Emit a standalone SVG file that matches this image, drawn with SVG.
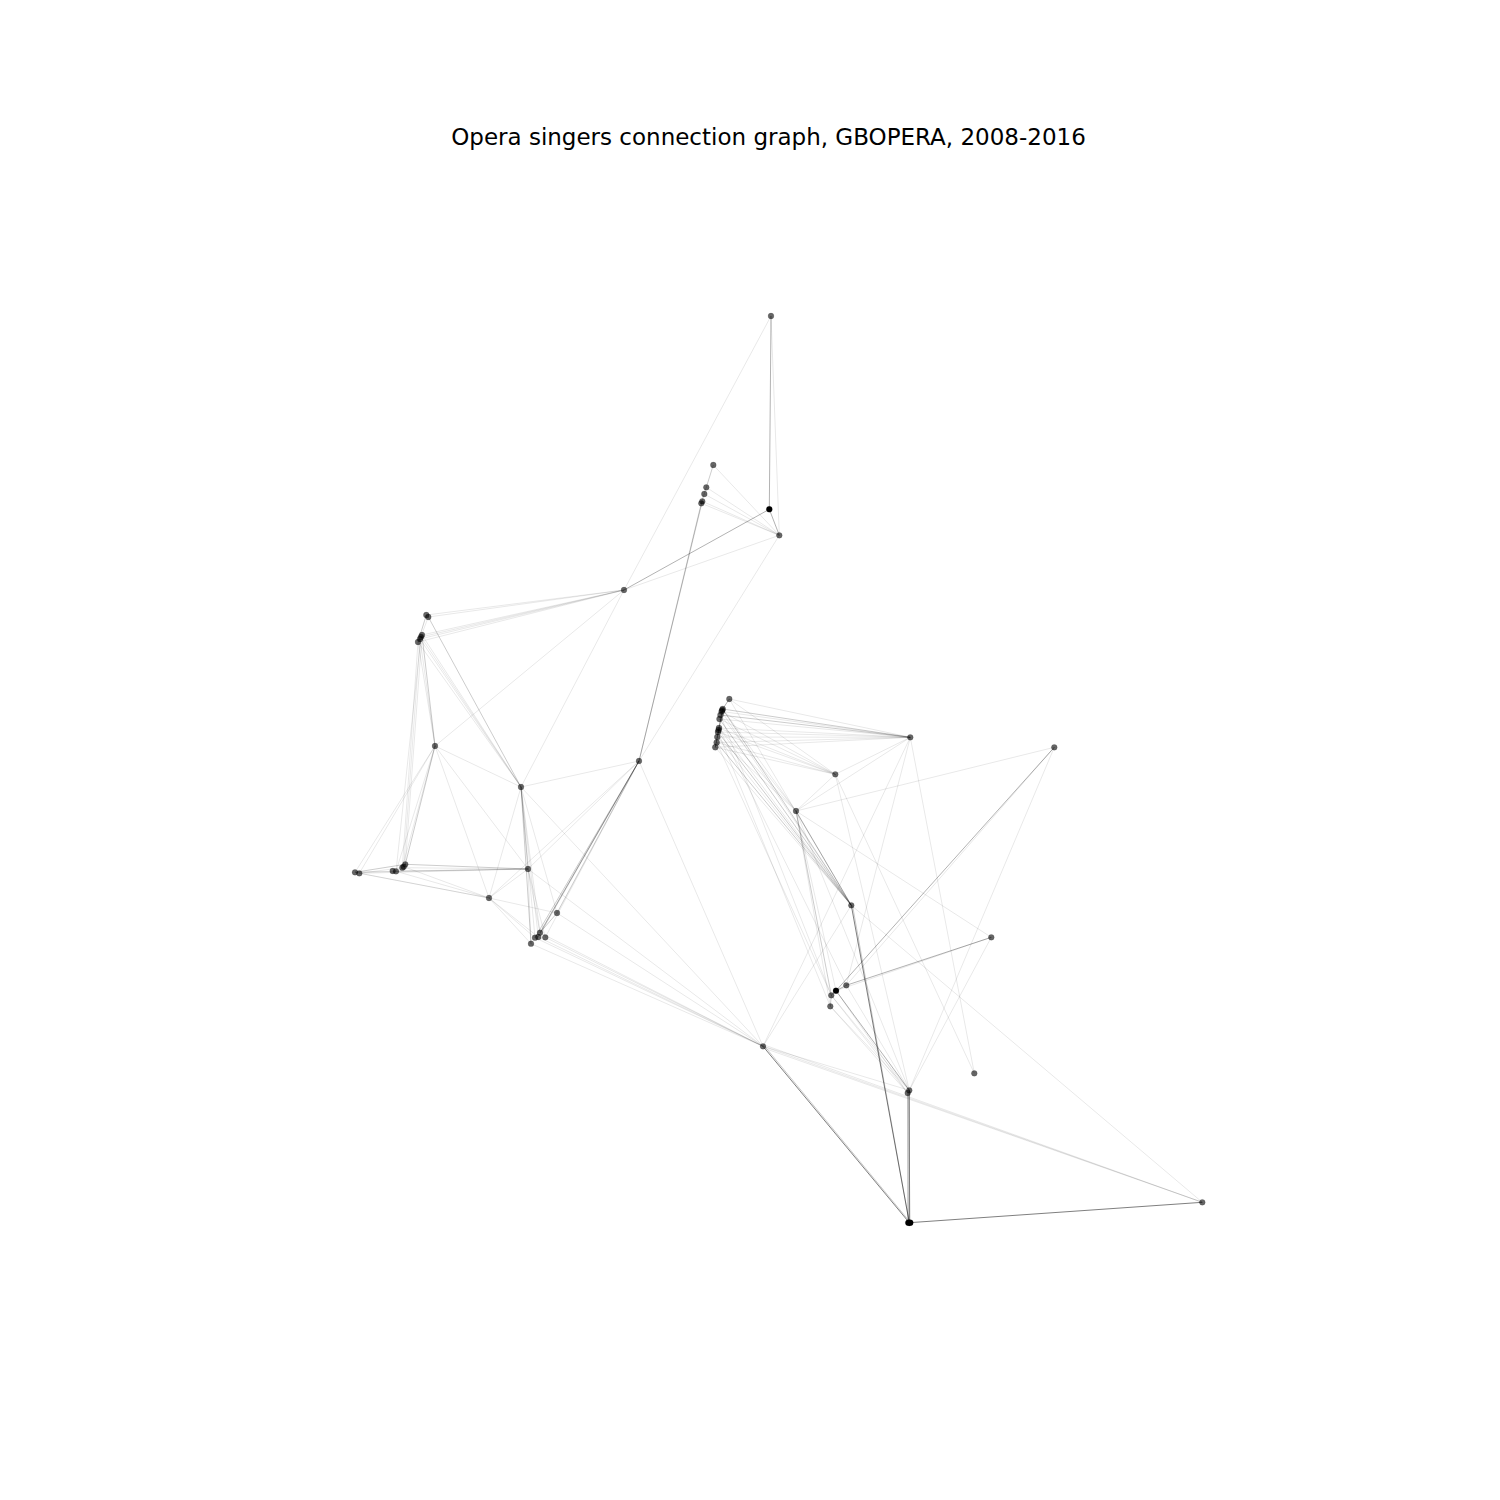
<svg xmlns="http://www.w3.org/2000/svg" width="1500" height="1500" viewBox="0 0 1500 1500">
<style>
.bg{fill:#fff}
.title{font-family:"DejaVu Sans","Liberation Sans",sans-serif;font-size:23px;fill:#000}
.edges line{stroke:#000;stroke-width:1;fill:none}
.e1{stroke-opacity:0.09}
.e2{stroke-opacity:0.2}
.e3{stroke-opacity:0.3}
.e4{stroke-opacity:0.5}
.node circle,.node ellipse{fill:#000;fill-opacity:0.6;stroke:#000;stroke-opacity:0.3;stroke-width:0.5}
.node.k circle,.node.k ellipse{fill-opacity:1}
</style>
<rect class="bg" x="0" y="0" width="1500" height="1500"/>
<text class="title" x="768.5" y="145" text-anchor="middle">Opera singers connection graph, GBOPERA, 2008-2016</text>
<g id="edges" class="edges">
<!-- top -->
<line class="e3" x1="771" y1="316" x2="769.3" y2="509.3"/>
<line class="e1" x1="771" y1="316" x2="779.3" y2="535.3"/>
<line class="e1" x1="771" y1="316" x2="624" y2="590"/>
<line class="e3" x1="769.3" y1="509.3" x2="624" y2="590"/>
<line class="e3" x1="769.3" y1="509.3" x2="779.3" y2="535.3"/>
<line class="e2" x1="713.3" y1="465" x2="706.3" y2="487.3"/>
<line class="e2" x1="706.3" y1="487.3" x2="701.3" y2="503.3"/>
<line class="e2" x1="702.3" y1="501.3" x2="639" y2="761"/>
<line class="e2" x1="701.3" y1="503.3" x2="639" y2="761"/>
<line class="e1" x1="713.3" y1="465" x2="779.3" y2="535.3"/>
<line class="e1" x1="706.3" y1="487.3" x2="779.3" y2="535.3"/>
<line class="e1" x1="704.3" y1="494" x2="779.3" y2="535.3"/>
<line class="e1" x1="702.3" y1="501.3" x2="779.3" y2="535.3"/>
<line class="e1" x1="701.3" y1="503.3" x2="779.3" y2="535.3"/>
<line class="e1" x1="624" y1="590" x2="779.3" y2="535.3"/>
<line class="e1" x1="779.3" y1="535.3" x2="639" y2="761"/>
<!-- left -->
<line class="e1" x1="624" y1="590" x2="426.3" y2="615"/>
<line class="e1" x1="624" y1="590" x2="428.3" y2="617"/>
<line class="e1" x1="624" y1="590" x2="422" y2="635"/>
<line class="e1" x1="624" y1="590" x2="420" y2="639"/>
<line class="e1" x1="624" y1="590" x2="418" y2="642"/>
<line class="e1" x1="624" y1="590" x2="421" y2="637"/>
<line class="e1" x1="624" y1="590" x2="435" y2="746"/>
<line class="e1" x1="624" y1="590" x2="521" y2="787"/>
<line class="e2" x1="426.3" y1="615" x2="418" y2="642"/>
<line class="e1" x1="428.3" y1="617" x2="420" y2="639"/>
<line class="e2" x1="422" y1="635" x2="435" y2="746"/>
<line class="e1" x1="420" y1="639" x2="435" y2="746"/>
<line class="e1" x1="418" y1="642" x2="435" y2="746"/>
<line class="e2" x1="428.3" y1="617" x2="521" y2="787"/>
<line class="e1" x1="422" y1="635" x2="521" y2="787"/>
<line class="e1" x1="420" y1="639" x2="521" y2="787"/>
<line class="e1" x1="418" y1="642" x2="521" y2="787"/>
<line class="e1" x1="421" y1="637" x2="521" y2="787"/>
<line class="e1" x1="422" y1="635" x2="405.3" y2="864.3"/>
<line class="e1" x1="420" y1="639" x2="403.7" y2="866.7"/>
<line class="e1" x1="418" y1="642" x2="402.3" y2="867.7"/>
<line class="e1" x1="421" y1="637" x2="396" y2="871.3"/>
<line class="e2" x1="435" y1="746" x2="405.3" y2="864.3"/>
<line class="e1" x1="435" y1="746" x2="402.3" y2="867.7"/>
<line class="e1" x1="435" y1="746" x2="396" y2="871.3"/>
<line class="e1" x1="435" y1="746" x2="355" y2="872.3"/>
<line class="e1" x1="435" y1="746" x2="359.3" y2="873.3"/>
<line class="e1" x1="435" y1="746" x2="521" y2="787"/>
<line class="e1" x1="435" y1="746" x2="489" y2="898"/>
<line class="e1" x1="435" y1="746" x2="528" y2="869"/>
<line class="e2" x1="521" y1="787" x2="528" y2="869"/>
<line class="e2" x1="521" y1="787" x2="531" y2="943.7"/>
<line class="e1" x1="521" y1="787" x2="540" y2="932.7"/>
<line class="e1" x1="521" y1="787" x2="538.3" y2="937"/>
<line class="e1" x1="521" y1="787" x2="535" y2="937.7"/>
<line class="e1" x1="521" y1="787" x2="557" y2="913"/>
<line class="e1" x1="521" y1="787" x2="489" y2="898"/>
<line class="e1" x1="521" y1="787" x2="639" y2="761"/>
<line class="e1" x1="521" y1="787" x2="763" y2="1046.3"/>
<line class="e3" x1="639" y1="761" x2="540" y2="932.7"/>
<line class="e2" x1="639" y1="761" x2="538.3" y2="937"/>
<line class="e2" x1="639" y1="761" x2="535" y2="937.7"/>
<line class="e1" x1="639" y1="761" x2="545.3" y2="937.3"/>
<line class="e2" x1="639" y1="761" x2="557" y2="913"/>
<line class="e1" x1="639" y1="761" x2="528" y2="869"/>
<line class="e1" x1="639" y1="761" x2="489" y2="898"/>
<line class="e1" x1="639" y1="761" x2="763" y2="1046.3"/>
<line class="e2" x1="528" y1="869" x2="405.3" y2="864.3"/>
<line class="e1" x1="528" y1="869" x2="402.3" y2="867.7"/>
<line class="e1" x1="528" y1="869" x2="396" y2="871.3"/>
<line class="e1" x1="528" y1="869" x2="392.7" y2="871"/>
<line class="e1" x1="528" y1="869" x2="359.3" y2="873.3"/>
<line class="e1" x1="528" y1="869" x2="355" y2="872.3"/>
<line class="e1" x1="528" y1="869" x2="489" y2="898"/>
<line class="e1" x1="528" y1="869" x2="540" y2="932.7"/>
<line class="e1" x1="528" y1="869" x2="545.3" y2="937.3"/>
<line class="e1" x1="528" y1="869" x2="531" y2="943.7"/>
<line class="e1" x1="528" y1="869" x2="763" y2="1046.3"/>
<line class="e1" x1="489" y1="898" x2="355" y2="872.3"/>
<line class="e1" x1="489" y1="898" x2="359.3" y2="873.3"/>
<line class="e1" x1="489" y1="898" x2="396" y2="871.3"/>
<line class="e1" x1="489" y1="898" x2="403.7" y2="866.7"/>
<line class="e1" x1="489" y1="898" x2="531" y2="943.7"/>
<line class="e1" x1="489" y1="898" x2="538.3" y2="937"/>
<line class="e1" x1="489" y1="898" x2="535" y2="937.7"/>
<line class="e1" x1="489" y1="898" x2="557" y2="913"/>
<line class="e2" x1="355" y1="872.3" x2="405.3" y2="864.3"/>
<line class="e1" x1="359.3" y1="873.3" x2="402.3" y2="867.7"/>
<line class="e1" x1="355" y1="872.3" x2="396" y2="871.3"/>
<line class="e2" x1="557" y1="913" x2="540" y2="932.7"/>
<line class="e1" x1="540" y1="932.7" x2="763" y2="1046.3"/>
<line class="e1" x1="538.3" y1="937" x2="763" y2="1046.3"/>
<line class="e1" x1="535" y1="937.7" x2="763" y2="1046.3"/>
<line class="e1" x1="545.3" y1="937.3" x2="763" y2="1046.3"/>
<line class="e1" x1="531" y1="943.7" x2="763" y2="1046.3"/>
<line class="e1" x1="557" y1="913" x2="763" y2="1046.3"/>
<!-- right -->
<line class="e1" x1="729.3" y1="699" x2="910.3" y2="737.3"/>
<line class="e1" x1="729.3" y1="699" x2="835.3" y2="774.3"/>
<line class="e3" x1="729.3" y1="699" x2="722.7" y2="709"/>
<line class="e4" x1="722.7" y1="709" x2="719" y2="728"/>
<line class="e4" x1="719" y1="728" x2="715.3" y2="747.3"/>
<line class="e2" x1="722.7" y1="709" x2="910.3" y2="737.3"/>
<line class="e1" x1="721.7" y1="711.5" x2="910.3" y2="737.3"/>
<line class="e2" x1="720.5" y1="715" x2="910.3" y2="737.3"/>
<line class="e1" x1="719.5" y1="719" x2="910.3" y2="737.3"/>
<line class="e1" x1="719" y1="728" x2="910.3" y2="737.3"/>
<line class="e1" x1="718" y1="732" x2="910.3" y2="737.3"/>
<line class="e1" x1="717.3" y1="737" x2="910.3" y2="737.3"/>
<line class="e1" x1="716.7" y1="742.5" x2="910.3" y2="737.3"/>
<line class="e1" x1="715.3" y1="747.3" x2="910.3" y2="737.3"/>
<line class="e1" x1="721.7" y1="711.5" x2="835.3" y2="774.3"/>
<line class="e1" x1="719.5" y1="719" x2="835.3" y2="774.3"/>
<line class="e1" x1="719" y1="728" x2="835.3" y2="774.3"/>
<line class="e1" x1="718" y1="732" x2="835.3" y2="774.3"/>
<line class="e1" x1="716.7" y1="742.5" x2="835.3" y2="774.3"/>
<line class="e1" x1="715.3" y1="747.3" x2="835.3" y2="774.3"/>
<line class="e1" x1="722.7" y1="709" x2="796" y2="811"/>
<line class="e1" x1="720.5" y1="715" x2="796" y2="811"/>
<line class="e1" x1="719" y1="728" x2="796" y2="811"/>
<line class="e1" x1="717.3" y1="737" x2="796" y2="811"/>
<line class="e2" x1="722.7" y1="709" x2="851.3" y2="905.3"/>
<line class="e1" x1="721.7" y1="711.5" x2="851.3" y2="905.3"/>
<line class="e2" x1="719.5" y1="719" x2="851.3" y2="905.3"/>
<line class="e1" x1="719" y1="728" x2="851.3" y2="905.3"/>
<line class="e2" x1="718" y1="732" x2="851.3" y2="905.3"/>
<line class="e1" x1="717.3" y1="737" x2="851.3" y2="905.3"/>
<line class="e2" x1="716.7" y1="742.5" x2="851.3" y2="905.3"/>
<line class="e1" x1="715.3" y1="747.3" x2="851.3" y2="905.3"/>
<line class="e1" x1="729.3" y1="699" x2="851.3" y2="905.3"/>
<line class="e3" x1="796" y1="811" x2="851.3" y2="905.3"/>
<line class="e1" x1="720.5" y1="715" x2="831.3" y2="995.3"/>
<line class="e1" x1="718" y1="732" x2="830.3" y2="1006.3"/>
<line class="e1" x1="716.7" y1="742.5" x2="831.3" y2="995.3"/>
<line class="e1" x1="719" y1="728" x2="846.3" y2="985.3"/>
<line class="e2" x1="796" y1="811" x2="831.3" y2="995.3"/>
<line class="e1" x1="796" y1="811" x2="830.3" y2="1006.3"/>
<line class="e1" x1="796" y1="811" x2="836" y2="990.7"/>
<line class="e1" x1="796" y1="811" x2="835.3" y2="774.3"/>
<line class="e1" x1="796" y1="811" x2="1054.3" y2="747.3"/>
<line class="e1" x1="796" y1="811" x2="991.3" y2="937.3"/>
<line class="e1" x1="796" y1="811" x2="910.3" y2="737.3"/>
<line class="e1" x1="796" y1="811" x2="909.3" y2="1090.3"/>
<line class="e1" x1="835.3" y1="774.3" x2="974.3" y2="1073.3"/>
<line class="e1" x1="835.3" y1="774.3" x2="909.3" y2="1090.3"/>
<line class="e1" x1="835.3" y1="774.3" x2="910.3" y2="737.3"/>
<line class="e1" x1="910.3" y1="737.3" x2="974.3" y2="1073.3"/>
<line class="e1" x1="910.3" y1="737.3" x2="763" y2="1046.3"/>
<line class="e1" x1="910.3" y1="737.3" x2="846.3" y2="985.3"/>
<line class="e3" x1="1054.3" y1="747.3" x2="836" y2="990.7"/>
<line class="e1" x1="1054.3" y1="747.3" x2="846.3" y2="985.3"/>
<line class="e1" x1="1054.3" y1="747.3" x2="909.3" y2="1090.3"/>
<line class="e3" x1="991.3" y1="937.3" x2="846.3" y2="985.3"/>
<line class="e1" x1="991.3" y1="937.3" x2="836" y2="990.7"/>
<line class="e1" x1="991.3" y1="937.3" x2="909.3" y2="1090.3"/>
<line class="e4" x1="851.3" y1="905.3" x2="909.3" y2="1222.7"/>
<line class="e2" x1="852.5" y1="905.3" x2="909.3" y2="1222.7"/>
<line class="e1" x1="851.3" y1="905.3" x2="1202.3" y2="1202.3"/>
<line class="e1" x1="851.3" y1="905.3" x2="763" y2="1046.3"/>
<line class="e3" x1="836" y1="990.7" x2="909.3" y2="1090.3"/>
<line class="e1" x1="831.3" y1="995.3" x2="909.3" y2="1090.3"/>
<line class="e1" x1="830.3" y1="1006.3" x2="909.3" y2="1090.3"/>
<line class="e1" x1="836" y1="990.7" x2="907.7" y2="1093"/>
<line class="e1" x1="846.3" y1="985.3" x2="909.3" y2="1090.3"/>
<line class="e1" x1="831.3" y1="995.3" x2="907.7" y2="1093"/>
<line class="e1" x1="830.3" y1="1006.3" x2="907.7" y2="1093"/>
<line class="e3" x1="836" y1="990.7" x2="846.3" y2="985.3"/>
<line class="e3" x1="836" y1="990.7" x2="831.3" y2="995.3"/>
<line class="e2" x1="831.3" y1="995.3" x2="830.3" y2="1006.3"/>
<line class="e4" x1="763" y1="1046.3" x2="909.3" y2="1222.7"/>
<line class="e2" x1="764" y1="1045.5" x2="910" y2="1222"/>
<line class="e4" x1="909.3" y1="1090.3" x2="909.3" y2="1222.7"/>
<line class="e3" x1="907.7" y1="1093" x2="908" y2="1222.7"/>
<line class="e2" x1="908.5" y1="1092" x2="910" y2="1222.7"/>
<line class="e4" x1="909.3" y1="1222.7" x2="1202.3" y2="1202.3"/>
<line class="e1" x1="763" y1="1046.3" x2="1202.3" y2="1202.3"/>
<line class="e1" x1="763" y1="1044.5" x2="1202.3" y2="1202.3"/>
<line class="e1" x1="763" y1="1047.8" x2="1202.3" y2="1202.3"/>
<line class="e1" x1="763" y1="1046.3" x2="909.3" y2="1090.3"/>
</g>
<g id="nodes">
<g id="n-A" class="node"><circle cx="624" cy="590" r="2.9"/></g>
<g id="n-c1" class="node"><circle cx="426.3" cy="615" r="2.9"/></g>
<g id="n-c2" class="node"><circle cx="428.3" cy="617" r="2.9"/></g>
<g id="n-c3" class="node"><circle cx="422" cy="635" r="2.9"/></g>
<g id="n-c3b" class="node"><circle cx="421" cy="637" r="2.9"/></g>
<g id="n-c4" class="node"><circle cx="420" cy="639" r="2.9"/></g>
<g id="n-c5" class="node"><circle cx="418" cy="642" r="2.9"/></g>
<g id="n-B" class="node"><circle cx="435" cy="746" r="2.9"/></g>
<g id="n-C" class="node"><circle cx="521" cy="787" r="2.9"/></g>
<g id="n-D" class="node"><circle cx="639" cy="761" r="2.9"/></g>
<g id="n-E" class="node"><circle cx="528" cy="869" r="2.9"/></g>
<g id="n-F" class="node"><circle cx="489" cy="898" r="2.9"/></g>
<g id="n-G" class="node"><circle cx="557" cy="913" r="2.9"/></g>
<g id="n-b1" class="node"><circle cx="540" cy="932.7" r="2.9"/></g>
<g id="n-b2" class="node"><circle cx="538.3" cy="937" r="2.9"/></g>
<g id="n-b3" class="node"><circle cx="535" cy="937.7" r="2.9"/></g>
<g id="n-b4" class="node"><circle cx="545.3" cy="937.3" r="2.9"/></g>
<g id="n-b5" class="node"><circle cx="531" cy="943.7" r="2.9"/></g>
<g id="n-l1" class="node"><circle cx="355" cy="872.3" r="2.9"/></g>
<g id="n-l2" class="node"><circle cx="359.3" cy="873.3" r="2.9"/></g>
<g id="n-l3" class="node"><circle cx="392.7" cy="871" r="2.9"/></g>
<g id="n-l4" class="node"><circle cx="396" cy="871.3" r="2.9"/></g>
<g id="n-l5" class="node"><circle cx="402.3" cy="867.7" r="2.9"/></g>
<g id="n-l6" class="node"><circle cx="403.7" cy="866.7" r="2.9"/></g>
<g id="n-l7" class="node"><circle cx="405.3" cy="864.3" r="2.9"/></g>
<g id="n-H" class="node"><circle cx="771" cy="316" r="2.9"/></g>
<g id="n-I" class="node k"><circle cx="769.3" cy="509.3" r="3"/></g>
<g id="n-J" class="node"><circle cx="779.3" cy="535.3" r="2.9"/></g>
<g id="n-K" class="node"><circle cx="713.3" cy="465" r="2.9"/></g>
<g id="n-L" class="node"><circle cx="706.3" cy="487.3" r="2.9"/></g>
<g id="n-M" class="node"><circle cx="704.3" cy="494" r="2.9"/></g>
<g id="n-N1" class="node"><circle cx="702.3" cy="501.3" r="2.9"/></g>
<g id="n-N2" class="node"><circle cx="701.3" cy="503.3" r="2.9"/></g>
<g id="n-P" class="node"><circle cx="729.3" cy="699" r="2.9"/></g>
<g id="n-r1" class="node"><circle cx="722.7" cy="709" r="3"/></g>
<g id="n-r1b" class="node"><circle cx="722.2" cy="710.3" r="3"/></g>
<g id="n-r2" class="node"><circle cx="721.7" cy="711.5" r="3"/></g>
<g id="n-r3" class="node"><circle cx="720.5" cy="715" r="3"/></g>
<g id="n-r4" class="node"><circle cx="719.5" cy="719" r="3"/></g>
<g id="n-r5" class="node"><circle cx="719" cy="728" r="3"/></g>
<g id="n-r5b" class="node"><circle cx="718.6" cy="730" r="3"/></g>
<g id="n-r6" class="node"><circle cx="718" cy="732" r="3"/></g>
<g id="n-r7" class="node"><circle cx="717.3" cy="737" r="3"/></g>
<g id="n-r8" class="node"><circle cx="716.7" cy="742.5" r="3"/></g>
<g id="n-r9" class="node"><circle cx="715.3" cy="747.3" r="3"/></g>
<g id="n-Q" class="node"><circle cx="910.3" cy="737.3" r="2.9"/></g>
<g id="n-R" class="node"><circle cx="1054.3" cy="747.3" r="2.9"/></g>
<g id="n-S" class="node"><circle cx="835.3" cy="774.3" r="2.9"/></g>
<g id="n-T" class="node"><circle cx="796" cy="811" r="2.9"/></g>
<g id="n-U" class="node"><circle cx="851.3" cy="905.3" r="2.9"/></g>
<g id="n-V" class="node"><circle cx="991.3" cy="937.3" r="2.9"/></g>
<g id="n-W" class="node"><circle cx="846.3" cy="985.3" r="2.9"/></g>
<g id="n-X" class="node k"><circle cx="836" cy="990.7" r="3"/></g>
<g id="n-Y" class="node"><circle cx="831.3" cy="995.3" r="2.9"/></g>
<g id="n-Z" class="node"><circle cx="830.3" cy="1006.3" r="2.9"/></g>
<g id="n-AA" class="node"><circle cx="763" cy="1046.3" r="2.9"/></g>
<g id="n-AB1" class="node"><circle cx="909.3" cy="1090.3" r="2.9"/></g>
<g id="n-AB2" class="node"><circle cx="907.7" cy="1093" r="2.9"/></g>
<g id="n-AC" class="node"><circle cx="974.3" cy="1073.3" r="2.9"/></g>
<g id="n-AD" class="node"><circle cx="1202.3" cy="1202.3" r="2.9"/></g>
<g id="n-AE" class="node k"><ellipse cx="909.3" cy="1222.7" rx="4" ry="3.2"/></g>
</g>
</svg>
